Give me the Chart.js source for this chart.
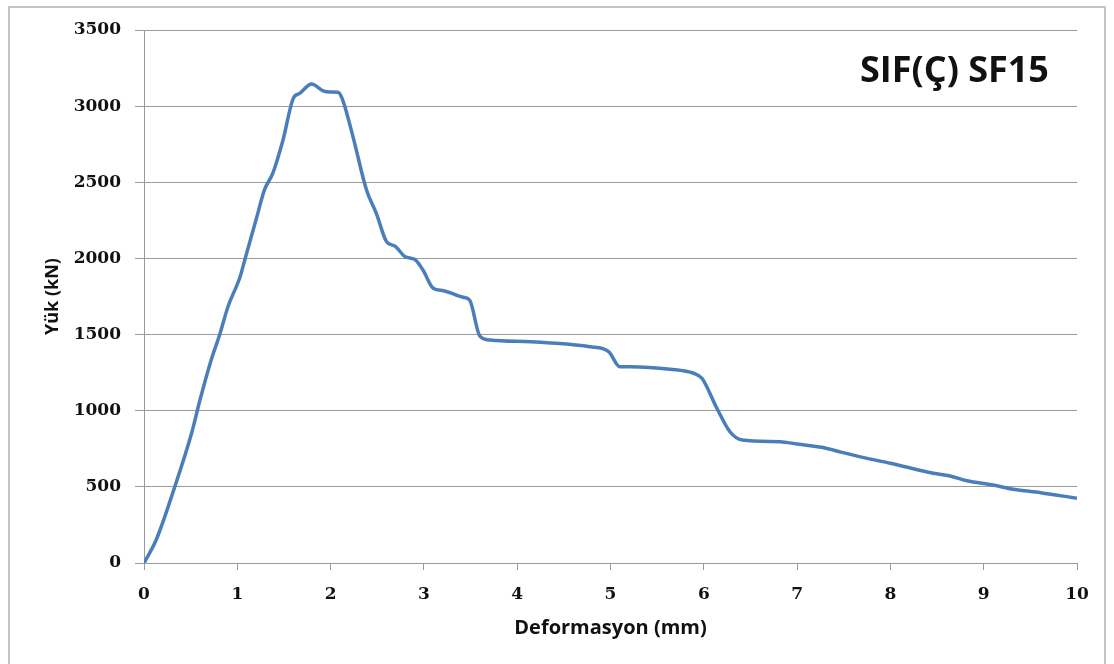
<!DOCTYPE html>
<html>
<head>
<meta charset="utf-8">
<script src="https://cdn.jsdelivr.net/npm/chart.js@4.4.1/dist/chart.umd.min.js"></script>
<style>
  html, body { margin: 0; padding: 0; background: #fff; overflow: hidden; }
  #wrap { position: relative; width: 1114px; height: 664px; }
  #frame { position: absolute; left: 8px; top: 6px; width: 1098px; height: 700px; border: 2px solid #c4c4c4; box-sizing: border-box; pointer-events: none; }
</style>
</head>
<body>
<div id="wrap">
  <div id="frame"></div>
  <canvas id="chart"></canvas>
</div>
<script>
// Deformasyon (mm) vs Yük (kN)
const deformasyon = [
  0, 0.13, 0.33, 0.51, 0.60, 0.72, 0.81, 0.90, 1.03, 1.08,
  1.21, 1.29, 1.38, 1.49, 1.60, 1.67, 1.795, 1.92, 1.99, 2.08,
  2.13, 2.24, 2.385, 2.49, 2.60, 2.69, 2.80, 2.90, 2.99, 3.10,
  3.21, 3.42, 3.49, 3.60, 3.71, 4.14, 4.32, 4.78, 4.98, 5.10,
  5.21, 5.64, 5.89, 5.98, 6.14, 6.28, 6.41, 6.82, 7.0, 7.3,
  7.47, 7.75, 8.0, 8.46, 8.64, 8.82, 9.10, 9.32, 9.61, 10.0
];
const yuk = [
  0, 151, 501, 852, 1070, 1333, 1497, 1683, 1880, 1990,
  2274, 2449, 2559, 2778, 3051, 3084, 3145, 3101, 3093, 3091,
  3040, 2799, 2449, 2296, 2110, 2081, 2011, 1994, 1924, 1804,
  1788, 1745, 1727, 1490, 1464, 1453, 1447, 1420, 1388, 1289,
  1289, 1272, 1246, 1213, 1016, 862, 808, 797, 781, 755,
  728, 687, 655, 589, 571, 540, 512, 484, 462, 425
];
const xTicks = [0, 1, 2, 3, 4, 5, 6, 7, 8, 9, 10];
const yTicks = [0, 500, 1000, 1500, 2000, 2500, 3000, 3500];
const chartTitle = 'SIF(Ç) SF15';

const gridGray = '#9a9a9a';
const tickFont = { family: 'DejaVu Serif', size: 17, weight: '700' };

// big label in the top right corner of the plot
const cornerTitle = {
  id: 'cornerTitle',
  afterDraw(chart) {
    const ctx = chart.ctx;
    ctx.save();
    ctx.font = '700 36px "Open Sans"';
    ctx.fillStyle = '#111';
    ctx.textAlign = 'left';
    ctx.textBaseline = 'alphabetic';
    ctx.fillText(chartTitle, 860, 82);
    ctx.restore();
  }
};

new Chart(document.getElementById('chart'), {
  type: 'line',
  data: {
    datasets: [{
      data: deformasyon.map((x, i) => ({ x, y: yuk[i] })),
      borderColor: '#4a7ebb',
      borderWidth: 3.5,
      pointRadius: 0,
      fill: false,
      cubicInterpolationMode: 'monotone'
    }]
  },
  options: {
    responsive: true,
    maintainAspectRatio: false,
    animation: false,
    layout: { padding: { top: 30, right: 37, bottom: 0, left: 0 } },
    plugins: { legend: { display: false }, tooltip: { enabled: false } },
    scales: {
      x: {
        type: 'linear',
        min: 0, max: 10,
        afterBuildTicks: s => { s.ticks = xTicks.map(v => ({ value: v })); },
        afterFit: s => { s.height = 101; },
        grid: { drawOnChartArea: false, drawTicks: true, tickLength: 7, color: gridGray },
        border: { display: true, color: gridGray, width: 1 },
        ticks: { font: tickFont, color: '#111', padding: 14, maxRotation: 0, callback: v => String(v) },
        title: { display: true, text: 'Deformasyon (mm)', font: { family: 'Open Sans', size: 20, weight: '700' }, color: '#111', padding: { top: 0, bottom: 24 } }
      },
      y: {
        min: 0, max: 3500,
        afterBuildTicks: s => { s.ticks = yTicks.map(v => ({ value: v })); },
        afterFit: s => { s.width = 144; },
        grid: { drawTicks: true, tickLength: 9, color: gridGray },
        border: { display: true, color: gridGray, width: 1 },
        ticks: { font: tickFont, color: '#111', padding: 14, callback: v => String(v) },
        title: { display: true, text: 'Yük (kN)', font: { family: 'Open Sans', size: 18, weight: '700' }, color: '#111', padding: { top: 42, bottom: 0 } }
      }
    }
  },
  plugins: [cornerTitle]
});
</script>
</body>
</html>
